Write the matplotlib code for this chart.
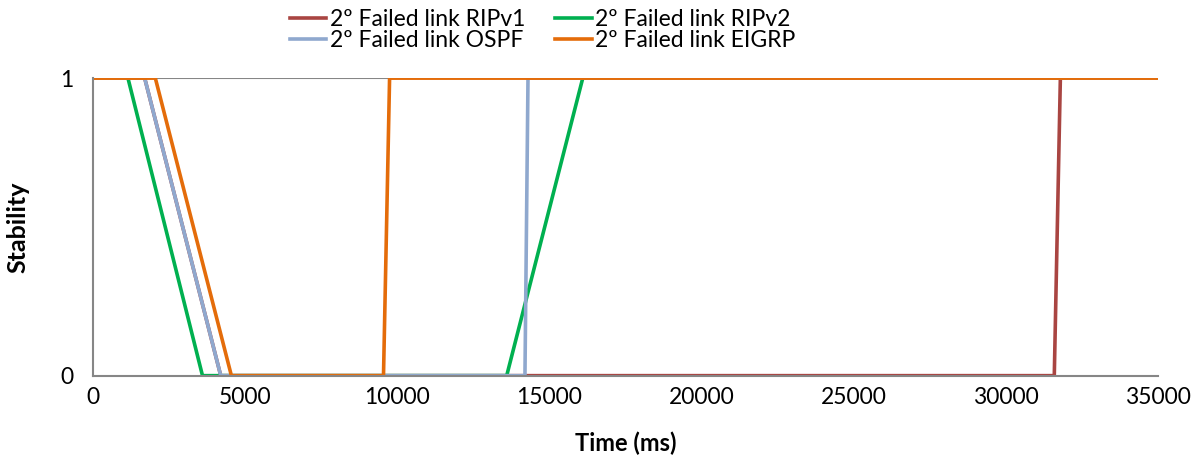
import matplotlib.pyplot as plt

plt.rcParams['font.family'] = ['Lato', 'DejaVu Sans']

# time (ms) / stability samples for each protocol after the 2nd link failure
ripv1_t = [0, 1700, 4200, 31600, 31800, 35000]
ripv1_s = [1, 1, 0, 0, 1, 1]
ripv2_t = [0, 1150, 3600, 13600, 16100, 35000]
ripv2_s = [1, 1, 0, 0, 1, 1]
ospf_t = [0, 1700, 4200, 14200, 14300, 35000]
ospf_s = [1, 1, 0, 0, 1, 1]
eigrp_t = [0, 2050, 4550, 9550, 9750, 35000]
eigrp_s = [1, 1, 0, 0, 1, 1]

x_ticks = [0, 5000, 10000, 15000, 20000, 25000, 30000, 35000]

fig = plt.figure(figsize=(11.95, 4.57), dpi=100)
ax = fig.add_axes([0.0778, 0.178, 0.891, 0.651])

lw = 2.6
l1, = ax.plot(ripv1_t, ripv1_s, color='#A94542', lw=lw, label='2º Failed link RIPv1')
l2, = ax.plot(ripv2_t, ripv2_s, color='#00B050', lw=lw, label='2º Failed link RIPv2')
l3, = ax.plot(ospf_t, ospf_s, color='#8FA8CE', lw=lw, label='2º Failed link OSPF')
l4, = ax.plot(eigrp_t, eigrp_s, color='#E46C0A', lw=lw, label='2º Failed link EIGRP')

ax.axhline(1, color='#868686', lw=1.5, zorder=0)
ax.set_xlim(0, 35000)
ax.set_ylim(0, 1)
ax.set_xticks(x_ticks)
ax.set_yticks([0, 1])
ax.tick_params(length=0, labelsize=16.5, pad=8)
ax.tick_params(axis='y', pad=14)
for s in ['top', 'right']:
    ax.spines[s].set_visible(False)
for s in ['left', 'bottom']:
    ax.spines[s].set_color('#868686')
    ax.spines[s].set_linewidth(1.5)
ax.set_xlabel('Time (ms)', fontsize=17, fontweight='bold', labelpad=17)
ax.set_ylabel('Stability', fontsize=18, fontweight='bold', labelpad=22)

fig.legend(handles=[l1, l3, l2, l4], ncol=2, loc='upper center',
           bbox_to_anchor=(0.454, 1.025), frameon=False, fontsize=16.5,
           handlelength=1.6, handletextpad=0.15, columnspacing=1.3,
           labelspacing=0.0)

fig.savefig('out.png', dpi=100)
